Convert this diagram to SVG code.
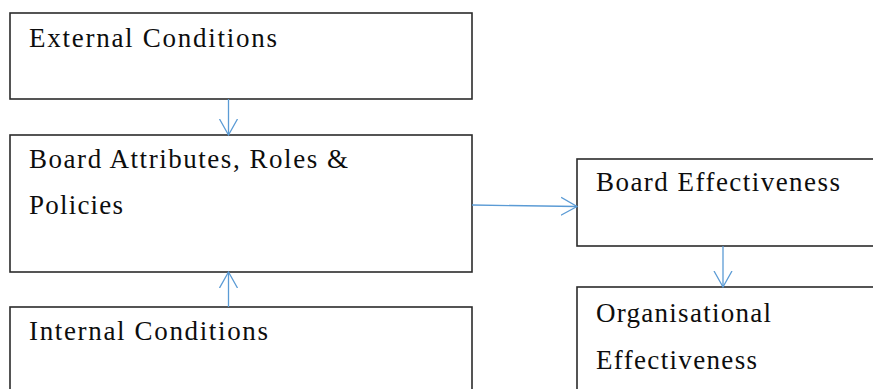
<svg xmlns="http://www.w3.org/2000/svg" width="873" height="389" viewBox="0 0 873 389">
<defs>
<style>
.box{fill:#fff;stroke:#2b2b2b;stroke-width:1.6}
.t{font-family:"Liberation Serif","Times New Roman",serif;font-size:27px;fill:#0d0d0d}
.c{stroke:#5b9bd5;stroke-width:1.3;fill:none}
</style>
<marker id="ah" markerWidth="20" markerHeight="22" refX="16" refY="10" orient="auto" markerUnits="userSpaceOnUse">
<path d="M0,1 L16,10 L0,19" fill="none" stroke="#5b9bd5" stroke-width="1.3"/>
</marker>
</defs>
<rect width="873" height="389" fill="#fff"/>
<g id="external">
<rect class="box" x="10" y="13" width="462" height="86"/>
<text class="t" x="29" y="46.5" textLength="248" lengthAdjust="spacing">External Conditions</text>
</g>
<g id="board">
<rect class="box" x="10" y="135" width="462" height="137"/>
<text class="t" x="29" y="168" textLength="319" lengthAdjust="spacing">Board Attributes, Roles &amp;</text>
<text class="t" x="29" y="214" textLength="94" lengthAdjust="spacing">Policies</text>
</g>
<g id="internal">
<rect class="box" x="10" y="307" width="462" height="100"/>
<text class="t" x="29" y="340" textLength="239" lengthAdjust="spacing">Internal Conditions</text>
</g>
<g id="boardEff">
<rect class="box" x="577" y="159" width="310" height="87"/>
<text class="t" x="596" y="190.5" textLength="244" lengthAdjust="spacing">Board Effectiveness</text>
</g>
<g id="orgEff">
<rect class="box" x="577" y="287" width="310" height="120"/>
<text class="t" x="596" y="322" textLength="175" lengthAdjust="spacing">Organisational</text>
<text class="t" x="596" y="369" textLength="161" lengthAdjust="spacing">Effectiveness</text>
</g>
<g id="connectors">
<line class="c" x1="228.5" y1="99" x2="228.5" y2="135" marker-end="url(#ah)"/>
<line class="c" x1="228.5" y1="307" x2="228.5" y2="272" marker-end="url(#ah)"/>
<line class="c" x1="472" y1="205" x2="577" y2="206.5" marker-end="url(#ah)"/>
<line class="c" x1="723" y1="246" x2="723" y2="287" marker-end="url(#ah)"/>
</g>
</svg>
